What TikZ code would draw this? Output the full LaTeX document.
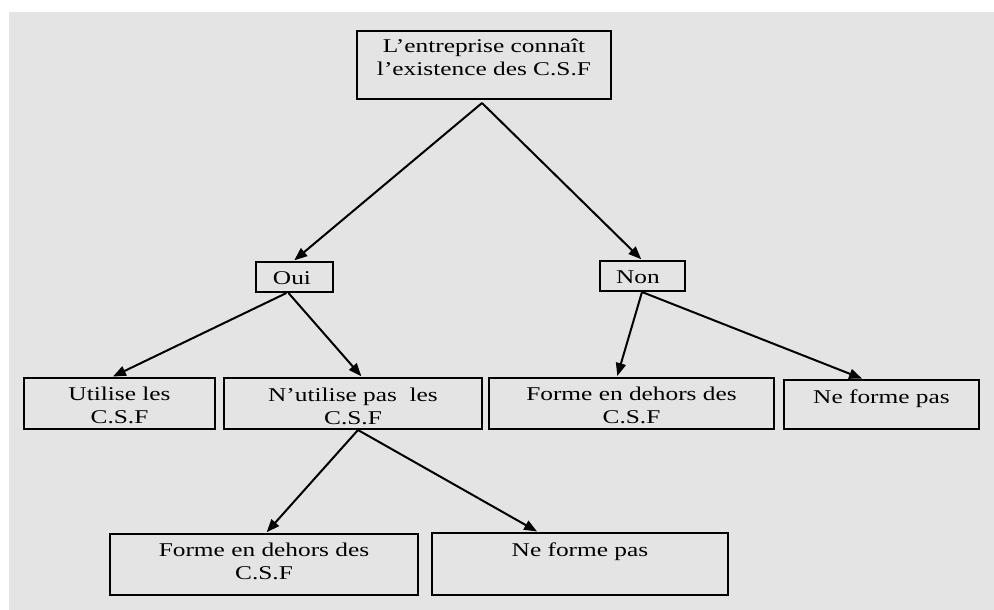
\documentclass[tikz,border=0pt]{standalone}
\usepackage{fontspec}
\setmainfont{Liberation Serif}[FakeStretch=1.3]
\usetikzlibrary{arrows.meta}
\definecolor{bggray}{HTML}{E4E4E4}
\tikzset{
  box/.style={draw=black, line width=2pt, fill=none, inner sep=0pt},
  txt/.style={font=\fontsize{19.5}{22.5}\selectfont, align=center, inner sep=0pt, anchor=base},
  arr/.style={draw=black, line width=2pt, -{Triangle[length=13pt,width=10pt]}, shorten >=1pt}
}
\begin{document}
\begin{tikzpicture}[x=1pt, y=-1pt]
  \useasboundingbox (0,0) rectangle (994,610);
  \fill[white] (0,0) rectangle (994,610);
  \fill[bggray] (9,12) rectangle (994,610);

  % boxes
  \node[box, minimum width=254pt, minimum height=68pt] (top) at (484,65) {};
  \node[box, minimum width=77pt, minimum height=30pt] (oui) at (294.5,277) {};
  \node[box, minimum width=85pt, minimum height=30pt] (non) at (642.5,276) {};
  \node[box, minimum width=191pt, minimum height=51pt] (util) at (119.5,403.5) {};
  \node[box, minimum width=258pt, minimum height=51pt] (nutil) at (353,403.5) {};
  \node[box, minimum width=285pt, minimum height=51pt] (formeR) at (631.5,403.5) {};
  \node[box, minimum width=195pt, minimum height=49pt] (neR) at (881.5,404.5) {};
  \node[box, minimum width=308pt, minimum height=61pt] (formeB) at (264,564.5) {};
  \node[box, minimum width=296pt, minimum height=62pt] (neB) at (580,564) {};

  % texts (base anchor = baseline of the last line)
  \node[txt] (ttop) at (484,75.5) {L’entreprise connaît\\l’existence des C.S.F};
  \node[txt] (toui) at (292,284) {Oui};
  \node[txt] (tnon) at (638,283) {Non};
  \node[txt] (tutil) at (119.5,423) {Utilise les\\C.S.F};
  \node[txt] (tnutil) at (353,424) {N’utilise pas\ \ les\\C.S.F};
  \node[txt] (tformeR) at (631.5,423) {Forme en dehors des\\C.S.F};
  \node[txt] (tneR) at (881.5,403) {Ne forme pas};
  \node[txt] (tformeB) at (264,579) {Forme en dehors des\\C.S.F};
  \node[txt] (tneB) at (580,556) {Ne forme pas};

  % arrows
  \draw[arr] ([xshift=-2pt, yshift=-3pt]top.south) -- ([xshift=-1pt]oui.north);
  \draw[arr] ([xshift=-2pt, yshift=-3pt]top.south) -- ([xshift=-0.5pt]non.north);
  \draw[arr] ([xshift=-8pt]oui.south) -- ([xshift=-7.5pt]util.north);
  \draw[arr] ([xshift=-6pt]oui.south) -- ([xshift=9pt]nutil.north);
  \draw[arr] ([xshift=-0.5pt]non.south) -- ([xshift=-14.5pt]formeR.north);
  \draw[arr] ([xshift=-0.5pt]non.south) -- ([xshift=-18.5pt]neR.north);
  \draw[arr] ([xshift=5pt]nutil.south) -- ([xshift=2pt]formeB.north);
  \draw[arr] ([xshift=5pt]nutil.south) -- ([xshift=-42pt]neB.north);
\end{tikzpicture}
\end{document}
